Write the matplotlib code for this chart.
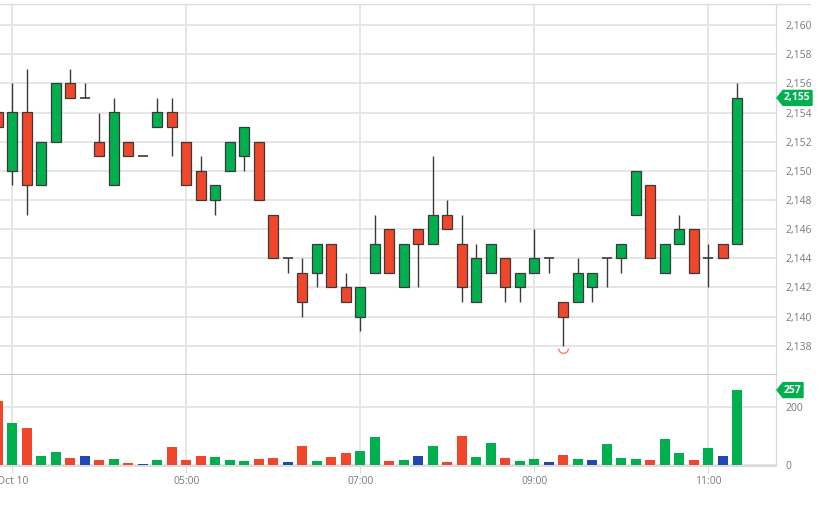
import numpy as np
import pandas as pd
import matplotlib
matplotlib.use("Agg")
import matplotlib.pyplot as plt
import matplotlib.transforms as mtransforms
from matplotlib.patches import Polygon
from matplotlib.path import Path
from matplotlib.lines import Line2D

plt.rcParams['font.family'] = ['Open Sans', 'DejaVu Sans']

# 10-minute bars, Oct 10
times = pd.date_range('2023-10-10 02:50', periods=52, freq='10min')
opens  = [2154, 2150, 2154, 2149, 2152, 2156, 2155, 2152, 2149, 2152, 2151, 2153, 2154,
          2152, 2150, 2148, 2150, 2151, 2152, 2147, 2144, 2143, 2143, 2145, 2142, 2140,
          2143, 2146, 2142, 2146, 2145, 2147, 2145, 2141, 2143, 2144, 2142, 2143, 2144,
          2141, 2141, 2142, 2144, 2144, 2147, 2149, 2143, 2145, 2146, 2144, 2145, 2145]
highs  = [2154, 2156, 2157, 2152, 2156, 2157, 2156, 2154, 2155, 2152, 2151, 2155, 2155,
          2152, 2151, 2149, 2152, 2153, 2152, 2147, 2144, 2144, 2145, 2145, 2143, 2142,
          2147, 2146, 2145, 2146, 2151, 2148, 2147, 2145, 2145, 2144, 2143, 2146, 2144,
          2141, 2144, 2143, 2144, 2145, 2150, 2149, 2145, 2147, 2146, 2145, 2145, 2156]
lows   = [2153, 2149, 2147, 2149, 2152, 2155, 2155, 2151, 2149, 2151, 2151, 2153, 2151,
          2149, 2148, 2147, 2150, 2150, 2148, 2144, 2143, 2140, 2142, 2142, 2141, 2139,
          2143, 2143, 2142, 2142, 2145, 2146, 2141, 2141, 2143, 2141, 2141, 2143, 2143,
          2138, 2141, 2141, 2142, 2143, 2147, 2144, 2143, 2145, 2143, 2142, 2144, 2145]
closes = [2153, 2154, 2149, 2152, 2156, 2155, 2155, 2151, 2154, 2151, 2151, 2154, 2153,
          2149, 2148, 2149, 2152, 2153, 2148, 2144, 2144, 2141, 2145, 2142, 2141, 2142,
          2145, 2143, 2145, 2145, 2147, 2146, 2142, 2144, 2145, 2142, 2143, 2144, 2144,
          2140, 2143, 2143, 2144, 2145, 2150, 2144, 2145, 2146, 2143, 2144, 2144, 2155]
volumes = [220, 142, 125, 29, 44, 22, 31, 15, 20, 6, 2, 16, 59, 15, 30, 26, 16, 13, 20,
           22, 9, 65, 13, 25, 39, 47, 94, 13, 16, 29, 64, 9, 99, 26, 76, 24, 13, 18, 10,
           32, 20, 15, 71, 22, 20, 15, 87, 39, 16, 57, 29, 257]
tick_labels = {'03:00': 'Oct 10', '05:00': '05:00', '07:00': '07:00',
               '09:00': '09:00', '11:00': '11:00'}
low_marker = 2137.86   # lowest-low marker under the 09:20 bar

GREEN = '#00b04f'
RED = '#f0462a'
BLUE = '#2047b5'
EDGE = '#3a3a3a'
GRID = '#e4e4e4'
TXT = '#7a7a7a'

o = np.array(opens); h = np.array(highs); l = np.array(lows); c = np.array(closes)
v = np.array(volumes)
x = np.arange(len(times))

fig = plt.figure(figsize=(8.34, 5.12), dpi=100)
W, H = 834, 512
axp = fig.add_axes([0, 1 - 375 / H, 776 / W, (375 - 4) / H])
axv = fig.add_axes([0, 1 - 466 / H, 776 / W, (466 - 375) / H], sharex=axp)

xpos = [i for i, t in enumerate(times) if t.strftime('%H:%M') in tick_labels]
xlab = [tick_labels[times[i].strftime('%H:%M')] for i in xpos]

# price pane
up = c > o
down = c < o
flat = c == o
bw = 0.69
axp.vlines(x, l, h, color=EDGE, lw=1.0, zorder=2)
axp.bar(x[up], (c - o)[up], bottom=o[up], width=bw, color=GREEN, edgecolor=EDGE, lw=0.9, zorder=3)
axp.bar(x[down], (o - c)[down], bottom=c[down], width=bw, color=RED, edgecolor=EDGE, lw=0.9, zorder=3)
axp.hlines(c[flat], x[flat] - bw / 2, x[flat] + bw / 2, color=EDGE, lw=1.2, zorder=3)
axp.plot([x[np.argmin(l)]], [low_marker], marker=Path.arc(180, 360), ms=7,
         mfc='none', mec='#f28070', mew=1.0, ls='none', zorder=4)

axp.set_xlim(0.152, 53.67)
axp.set_ylim(2136.0, 2161.44)
axp.set_yticks(np.arange(2138, 2161, 2))
axp.set_yticklabels([f'{t:,}' for t in range(2138, 2161, 2)])
axp.yaxis.tick_right()
axp.tick_params(axis='y', length=0, pad=7, labelsize=7.5, labelcolor=TXT)
axp.tick_params(axis='x', length=0, labelbottom=False)
axp.set_xticks(xpos)
axp.grid(True, color=GRID, lw=1.3, zorder=0)
axp.set_axisbelow(True)
for s in ['left', 'top']:
    axp.spines[s].set_visible(False)
axp.spines['right'].set_color('#d8d8d8')
axp.spines['bottom'].set_color('#c8c8c8')
axp.spines['bottom'].set_linewidth(1.5)

# volume pane
chg = np.diff(c, prepend=c[0] + 1)
vcol = np.where(chg > 0, GREEN, np.where(chg < 0, RED, BLUE))
axv.bar(x, v, width=bw, color=vcol, lw=0, zorder=3)
axv.set_ylim(-5, 309)
axv.set_yticks([0, 200])
axv.yaxis.tick_right()
axv.tick_params(axis='y', length=0, pad=7, labelsize=7.5, labelcolor=TXT)
axv.set_xticks(xpos)
axv.set_xticklabels(xlab)
axv.tick_params(axis='x', length=5, color='#dcdcdc', pad=2, labelsize=7.5, labelcolor=TXT)
axv.grid(True, color=GRID, lw=1.3, zorder=0)
axv.set_axisbelow(True)
for s in ['left', 'top']:
    axv.spines[s].set_visible(False)
axv.spines['right'].set_color('#d8d8d8')
axv.spines['bottom'].set_color('#dcdcdc')
axv.spines['bottom'].set_linewidth(1.5)

# top border line
fig.add_artist(Line2D([0, 810 / W], [1 - 4 / H, 1 - 4 / H], transform=fig.transFigure,
                      color='#dddddd', lw=1.0))


def tag(ax, value, text, width):
    fig.canvas.draw()
    yd = ax.transData.transform((0, value))[1]
    x0 = ax.transAxes.transform((1, 0))[0]
    hh = 7.5
    pts = [(x0 + 1, yd), (x0 + 7, yd + hh), (x0 + width, yd + hh),
           (x0 + width, yd - hh), (x0 + 7, yd - hh)]
    poly = Polygon(pts, closed=True, color=GREEN, transform=mtransforms.IdentityTransform())
    poly.set_zorder(10)
    fig.add_artist(poly)
    t = fig.text((x0 + (6 + width) / 2) / W, yd / H, text, color='white', fontsize=7.5,
                 fontweight='bold', ha='center', va='center')
    t.set_zorder(11)


tag(axp, closes[-1], f'{closes[-1]:,}', 36)
tag(axv, volumes[-1], f'{volumes[-1]}', 27)

fig.savefig('out.png', dpi=100)
